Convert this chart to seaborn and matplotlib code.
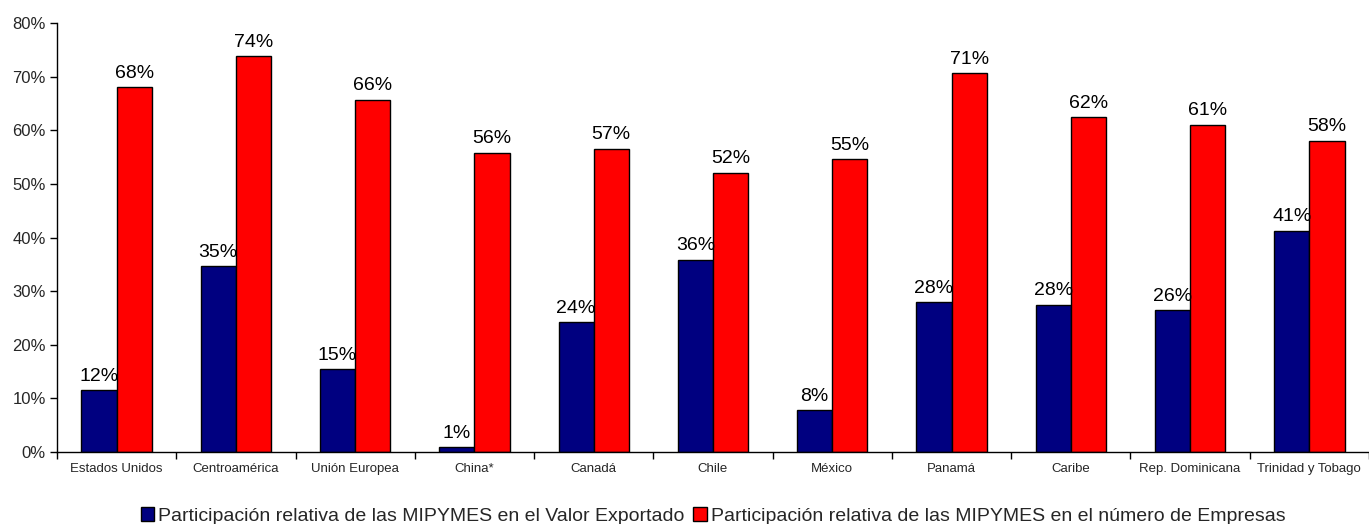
import matplotlib
matplotlib.use("Agg")
import matplotlib.pyplot as plt
import seaborn as sns
import pandas as pd
import numpy as np
from matplotlib.ticker import FuncFormatter, MultipleLocator, FixedLocator

categories = ["Estados Unidos", "Centroamérica", "Unión Europea", "China*", "Canadá",
              "Chile", "México", "Panamá", "Caribe", "Rep. Dominicana", "Trinidad y Tobago"]
valor_exportado = [11.5, 34.6, 15.4, 0.9, 24.2, 35.9, 7.8, 27.9, 27.5, 26.4, 41.3]
numero_empresas = [68.0, 73.8, 65.7, 55.8, 56.6, 52.1, 54.6, 70.6, 62.4, 61.0, 58.0]
series_names = ["Participación relativa de las MIPYMES en el Valor Exportado",
                "Participación relativa de las MIPYMES en el número de Empresas"]
colors = ["#000080", "#FF0000"]

df = pd.DataFrame({
    "cat": categories * 2,
    "val": valor_exportado + numero_empresas,
    "serie": [series_names[0]] * len(categories) + [series_names[1]] * len(categories),
})

sns.set_theme(style="white")
plt.rcParams["font.family"] = ["Liberation Sans", "DejaVu Sans"]

fig = plt.figure(figsize=(13.69, 5.24), dpi=100)
ax = fig.add_axes([0.0416, 0.1374, 0.9584, 0.8186])

sns.barplot(data=df, x="cat", y="val", hue="serie", order=categories,
            hue_order=series_names, palette=colors, width=0.59, gap=0,
            edgecolor="black", linewidth=1, saturation=1, ax=ax, legend=True)

for cont in ax.containers:
    for bar in cont:
        h = bar.get_height()
        ax.annotate(f"{h:.0f}%", (bar.get_x() + bar.get_width() / 2, h),
                    xytext=(0, 4), textcoords="offset points",
                    ha="center", va="bottom", fontsize=14, color="black")

ax.set_ylim(0, 80)
ax.set_xlim(-0.5, len(categories) - 0.5)
ax.yaxis.set_major_locator(MultipleLocator(10))
ax.yaxis.set_major_formatter(FuncFormatter(lambda v, p: f"{v:.0f}%"))
ax.set_xlabel("")
ax.set_ylabel("")
ax.tick_params(axis="y", labelsize=12, left=True, length=5, width=1, color="black", pad=3)
ax.tick_params(axis="x", which="major", labelsize=9.5, bottom=False, length=0, pad=8)
ax.xaxis.set_minor_locator(FixedLocator(np.arange(-0.5, len(categories), 1.0)))
ax.tick_params(axis="x", which="minor", bottom=True, length=5, width=1, color="black")
for s in ["top", "right"]:
    ax.spines[s].set_visible(False)
for s in ["left", "bottom"]:
    ax.spines[s].set_color("black")
    ax.spines[s].set_linewidth(1)
ax.grid(False)

handles, labels = ax.get_legend_handles_labels()
ax.legend_.remove()
fig.legend(handles, labels, loc="center", bbox_to_anchor=(0.521, 0.015), ncol=2,
           frameon=False, fontsize=14, handlelength=0.7, handleheight=0.7,
           handletextpad=0.2, columnspacing=0.45, borderaxespad=0)

fig.savefig("out.png", dpi=100)
